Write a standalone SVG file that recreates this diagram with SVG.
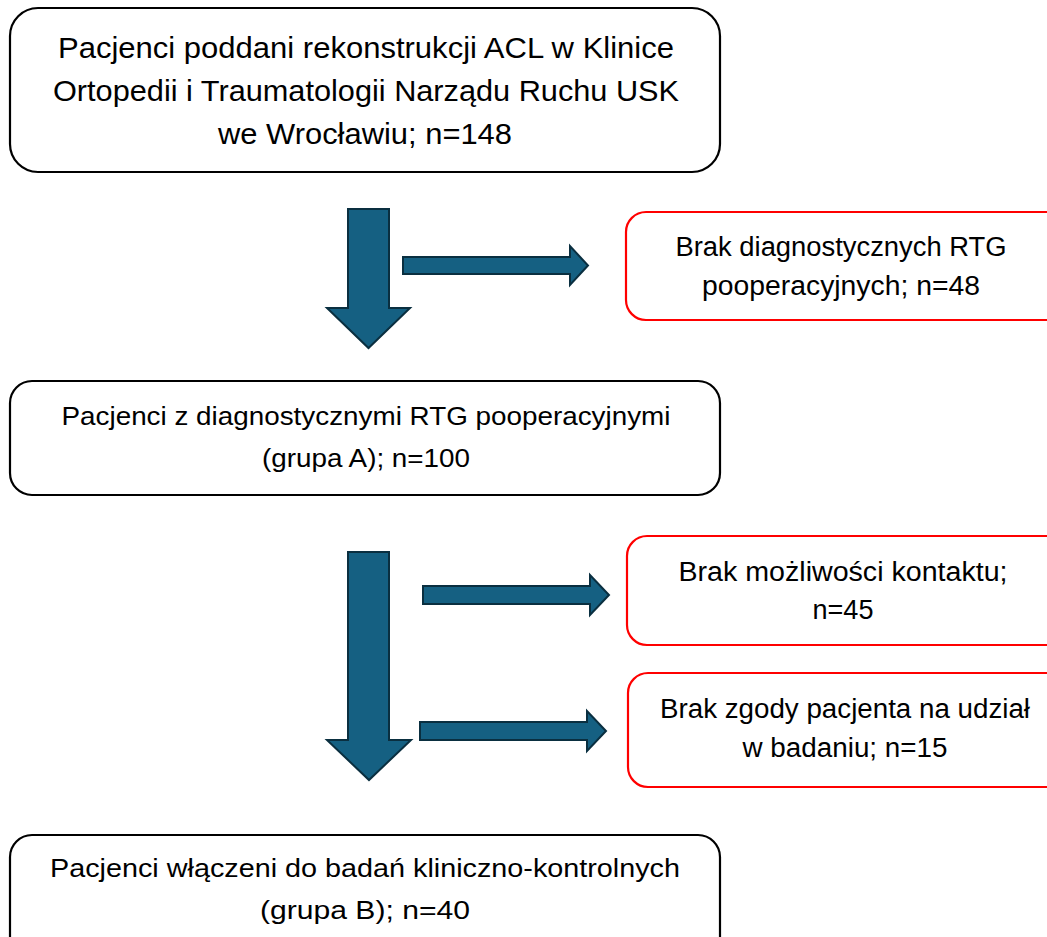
<svg xmlns="http://www.w3.org/2000/svg" width="1047" height="937" viewBox="0 0 1047 937">
<style>
.box{fill:#fff;stroke:#000;stroke-width:2.2}
.red{fill:#fff;stroke:#ff0000;stroke-width:2.2}
.arr{fill:#156082;stroke:#0a2f40;stroke-width:2;stroke-linejoin:miter}
text{font-family:"Liberation Sans",Arial,sans-serif;fill:#000;text-anchor:middle}
.t1{font-size:29px}
.t2{font-size:26px}
.t3{font-size:27px}
</style>
<rect width="1047" height="937" fill="#fff"/>
<g id="connectors">
<polygon class="arr" points="348,209 389,209 389,308 410,308 368.5,348 327,308 348,308"/>
<polygon class="arr" points="403,257 570,257 570,246 588,265.5 570,285 570,274 403,274"/>
<polygon class="arr" points="348,552 389,552 389,740 411,740 369,780 327,740 348,740"/>
<polygon class="arr" points="423,586 590,586 590,575 609,595 590,615 590,604 423,604"/>
<polygon class="arr" points="420,722 587,722 587,711 606,731 587,751 587,740 420,740"/>
</g>
<g id="n1">
<rect class="box" x="10" y="8" width="710" height="164" rx="28"/>
<text class="t1" x="366" y="58" textLength="616" lengthAdjust="spacingAndGlyphs">Pacjenci poddani rekonstrukcji ACL w Klinice</text>
<text class="t1" x="366" y="101" textLength="626" lengthAdjust="spacingAndGlyphs">Ortopedii i Traumatologii Narządu Ruchu USK</text>
<text class="t1" x="365" y="144" textLength="294" lengthAdjust="spacingAndGlyphs">we Wrocławiu; n=148</text>
</g>
<g id="n2">
<rect class="red" x="626" y="212" width="440" height="108" rx="20"/>
<text class="t3" x="841" y="256" textLength="331" lengthAdjust="spacingAndGlyphs">Brak diagnostycznych RTG</text>
<text class="t3" x="841" y="295" textLength="278" lengthAdjust="spacingAndGlyphs">pooperacyjnych; n=48</text>
</g>
<g id="n3">
<rect class="box" x="10" y="381" width="710" height="114" rx="22"/>
<text class="t2" x="366" y="425" textLength="609" lengthAdjust="spacingAndGlyphs">Pacjenci z diagnostycznymi RTG pooperacyjnymi</text>
<text class="t2" x="366" y="467" textLength="208" lengthAdjust="spacingAndGlyphs">(grupa A); n=100</text>
</g>
<g id="n4">
<rect class="red" x="627" y="536" width="440" height="109" rx="20"/>
<text class="t3" x="843" y="581" textLength="329" lengthAdjust="spacingAndGlyphs">Brak możliwości kontaktu;</text>
<text class="t3" x="843" y="619" textLength="61" lengthAdjust="spacingAndGlyphs">n=45</text>
</g>
<g id="n5">
<rect class="red" x="628" y="673" width="440" height="114" rx="20"/>
<text class="t3" x="845" y="718" textLength="370" lengthAdjust="spacingAndGlyphs">Brak zgody pacjenta na udział</text>
<text class="t3" x="845" y="757" textLength="205" lengthAdjust="spacingAndGlyphs">w badaniu; n=15</text>
</g>
<g id="n6">
<rect class="box" x="10" y="835" width="710" height="130" rx="22"/>
<text class="t2" x="365" y="877" textLength="630" lengthAdjust="spacingAndGlyphs">Pacjenci włączeni do badań kliniczno-kontrolnych</text>
<text class="t2" x="365" y="919" textLength="210" lengthAdjust="spacingAndGlyphs">(grupa B); n=40</text>
</g>
</svg>
